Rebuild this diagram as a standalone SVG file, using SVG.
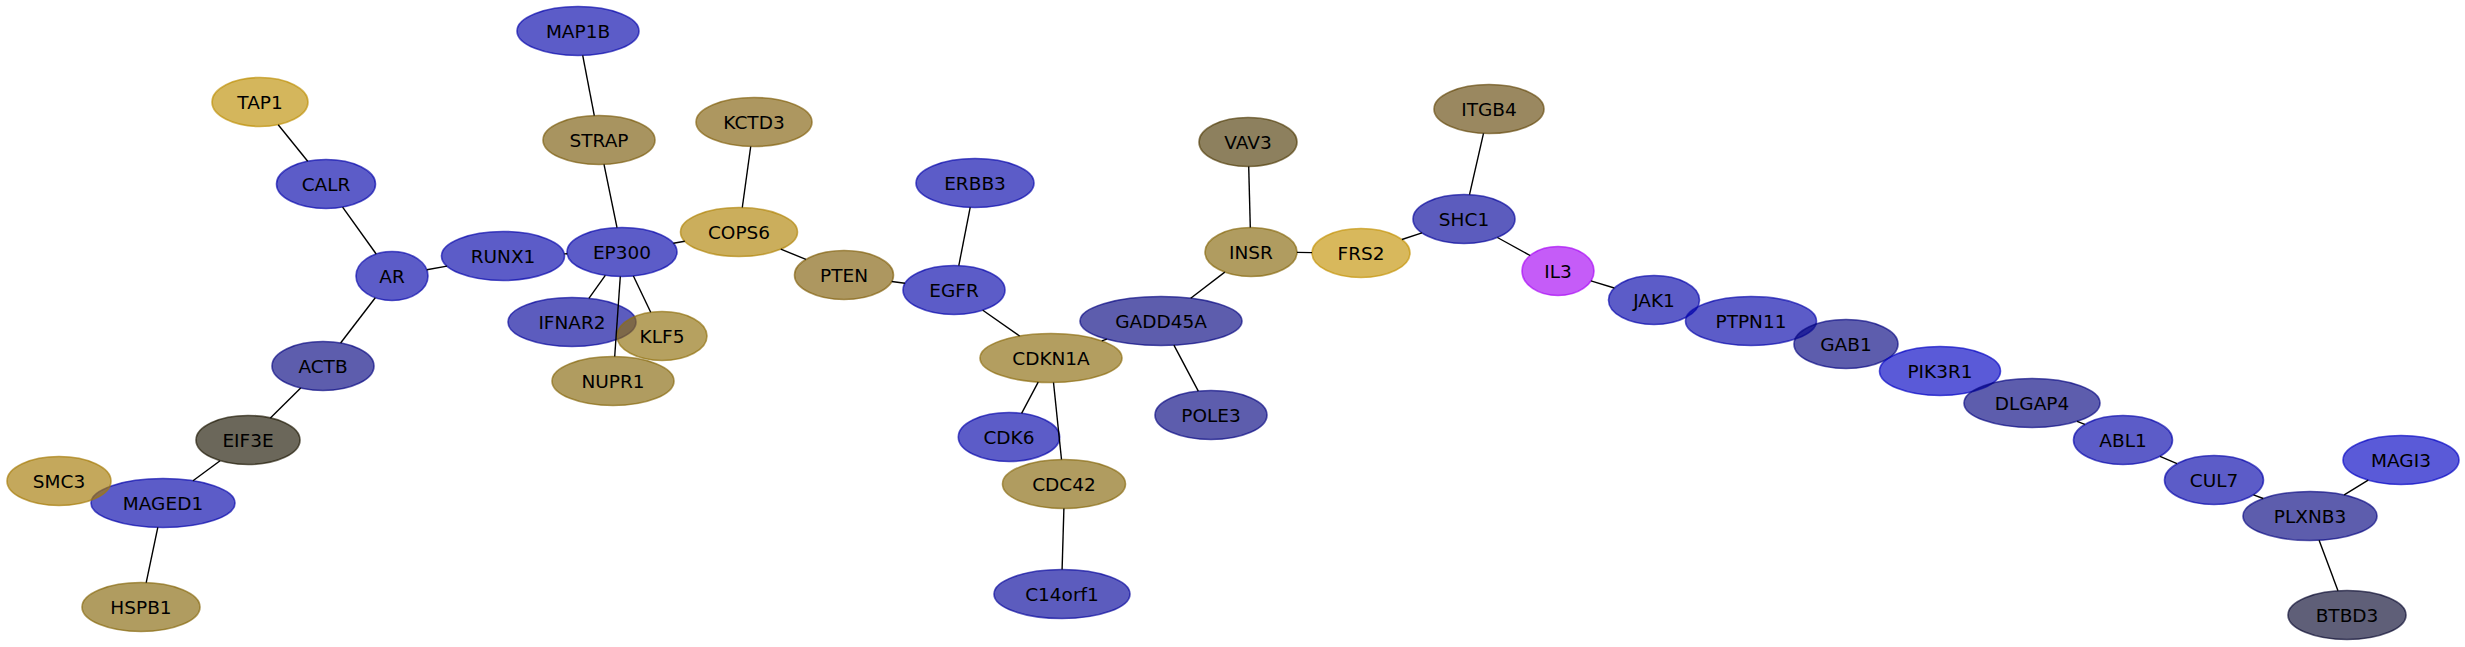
<svg xmlns="http://www.w3.org/2000/svg" width="2465" height="647" viewBox="0 0 2465 647">
<style>
  .n ellipse { fill-opacity: 0.65; stroke-opacity: 0.65; stroke-width: 1.6; }
  .n text { font-family: "DejaVu Sans", "Liberation Sans", sans-serif; font-size: 18.5px; fill: #000; text-anchor: middle; }
  .blue ellipse { fill: #0404aa; stroke: #0404aa; }
  .bblue ellipse { fill: #0101c3; stroke: #0101c3; }
  .mblue ellipse { fill: #04049b; stroke: #04049b; }
  .dblue ellipse { fill: #060681; stroke: #060681; }
  .btbd ellipse { fill: #09092f; stroke: #09092f; }
  .eif ellipse { fill: #1b1501; stroke: #1b1501; }
  .tap ellipse { fill: #bd8f04; stroke: #bd8f04; }
  .cops ellipse { fill: #af8204; stroke: #af8204; }
  .frs ellipse { fill: #c39204; stroke: #c39204; }
  .smc ellipse { fill: #a47904; stroke: #a47904; }
  .tan ellipse { fill: #85670a; stroke: #85670a; }
  .strap ellipse { fill: #795a0a; stroke: #795a0a; }
  .kctd ellipse { fill: #81600a; stroke: #81600a; }
  .cdkn ellipse { fill: #8a6a0a; stroke: #8a6a0a; }
  .klf ellipse { fill: #8f6e0a; stroke: #8f6e0a; }
  .vav ellipse { fill: #503c07; stroke: #503c07; }
  .itgb ellipse { fill: #64480a; stroke: #64480a; }
  .il ellipse { fill: #a604f4; stroke: #a604f4; }
  #edges line { stroke: #000; stroke-width: 1.4; }
</style>
<rect width="2465" height="647" fill="#fff"/>
<g id="nodes">
  <g id="TAP1" class="n tap"><ellipse cx="260" cy="102" rx="48" ry="24.5"/><text x="260" y="108.5">TAP1</text></g>
  <g id="CALR" class="n blue"><ellipse cx="326" cy="184" rx="49.5" ry="24.5"/><text x="326" y="190.5">CALR</text></g>
  <g id="AR" class="n blue"><ellipse cx="392" cy="276" rx="36" ry="24.5"/><text x="392" y="282.5">AR</text></g>
  <g id="ACTB" class="n dblue"><ellipse cx="323" cy="366" rx="51" ry="24.5"/><text x="323" y="372.5">ACTB</text></g>
  <g id="EIF3E" class="n eif"><ellipse cx="248" cy="440" rx="52" ry="24.5"/><text x="248" y="446.5">EIF3E</text></g>
  <g id="MAGED1" class="n blue"><ellipse cx="163" cy="503" rx="72" ry="24.5"/><text x="163" y="509.5">MAGED1</text></g>
  <g id="SMC3" class="n smc"><ellipse cx="59" cy="481" rx="52" ry="24.5"/><text x="59" y="487.5">SMC3</text></g>
  <g id="HSPB1" class="n tan"><ellipse cx="141" cy="607" rx="59" ry="24.5"/><text x="141" y="613.5">HSPB1</text></g>
  <g id="MAP1B" class="n blue"><ellipse cx="578" cy="31" rx="61" ry="24.5"/><text x="578" y="37.5">MAP1B</text></g>
  <g id="STRAP" class="n strap"><ellipse cx="599" cy="140" rx="56" ry="24.5"/><text x="599" y="146.5">STRAP</text></g>
  <g id="KCTD3" class="n kctd"><ellipse cx="754" cy="122" rx="58" ry="24.5"/><text x="754" y="128.5">KCTD3</text></g>
  <g id="COPS6" class="n cops"><ellipse cx="739" cy="232" rx="58.5" ry="24.5"/><text x="739" y="238.5">COPS6</text></g>
  <g id="RUNX1" class="n blue"><ellipse cx="503" cy="256" rx="61.5" ry="24.5"/><text x="503" y="262.5">RUNX1</text></g>
  <g id="EP300" class="n blue"><ellipse cx="622" cy="252" rx="55" ry="24.5"/><text x="622" y="258.5">EP300</text></g>
  <g id="NUPR1" class="n tan"><ellipse cx="613" cy="381" rx="61" ry="24.5"/><text x="613" y="387.5">NUPR1</text></g>
  <g id="IFNAR2" class="n mblue"><ellipse cx="572" cy="322" rx="64" ry="24.5"/><text x="572" y="328.5">IFNAR2</text></g>
  <g id="KLF5" class="n klf"><ellipse cx="662" cy="336" rx="45" ry="24.5"/><text x="662" y="342.5">KLF5</text></g>
  <g id="PTEN" class="n kctd"><ellipse cx="844" cy="275" rx="49.5" ry="24.5"/><text x="844" y="281.5">PTEN</text></g>
  <g id="ERBB3" class="n blue"><ellipse cx="975" cy="183" rx="59" ry="24.5"/><text x="975" y="189.5">ERBB3</text></g>
  <g id="EGFR" class="n blue"><ellipse cx="954" cy="290" rx="51" ry="24.5"/><text x="954" y="296.5">EGFR</text></g>
  <g id="GADD45A" class="n dblue"><ellipse cx="1161" cy="321" rx="81" ry="24.5"/><text x="1161" y="327.5">GADD45A</text></g>
  <g id="CDKN1A" class="n cdkn"><ellipse cx="1051" cy="358" rx="71" ry="24.5"/><text x="1051" y="364.5">CDKN1A</text></g>
  <g id="CDK6" class="n blue"><ellipse cx="1009" cy="437" rx="50.7" ry="24.5"/><text x="1009" y="443.5">CDK6</text></g>
  <g id="CDC42" class="n tan"><ellipse cx="1064" cy="484" rx="61.5" ry="24.5"/><text x="1064" y="490.5">CDC42</text></g>
  <g id="C14orf1" class="n mblue"><ellipse cx="1062" cy="594" rx="68" ry="24.5"/><text x="1062" y="600.5">C14orf1</text></g>
  <g id="POLE3" class="n dblue"><ellipse cx="1211" cy="415" rx="56" ry="24.5"/><text x="1211" y="421.5">POLE3</text></g>
  <g id="VAV3" class="n vav"><ellipse cx="1248" cy="142" rx="49" ry="24.5"/><text x="1248" y="148.5">VAV3</text></g>
  <g id="INSR" class="n tan"><ellipse cx="1251" cy="252" rx="46" ry="24.5"/><text x="1251" y="258.5">INSR</text></g>
  <g id="FRS2" class="n frs"><ellipse cx="1361" cy="253" rx="49" ry="24.5"/><text x="1361" y="259.5">FRS2</text></g>
  <g id="ITGB4" class="n itgb"><ellipse cx="1489" cy="109" rx="55" ry="24.5"/><text x="1489" y="115.5">ITGB4</text></g>
  <g id="SHC1" class="n mblue"><ellipse cx="1464" cy="219" rx="51" ry="24.5"/><text x="1464" y="225.5">SHC1</text></g>
  <g id="IL3" class="n il"><ellipse cx="1558" cy="271" rx="36" ry="24.5"/><text x="1558" y="277.5">IL3</text></g>
  <g id="JAK1" class="n blue"><ellipse cx="1654" cy="300" rx="45.5" ry="24.5"/><text x="1654" y="306.5">JAK1</text></g>
  <g id="PTPN11" class="n blue"><ellipse cx="1751" cy="321" rx="65.5" ry="24.5"/><text x="1751" y="327.5">PTPN11</text></g>
  <g id="GAB1" class="n dblue"><ellipse cx="1846" cy="344" rx="52" ry="24.5"/><text x="1846" y="350.5">GAB1</text></g>
  <g id="PIK3R1" class="n bblue"><ellipse cx="1940" cy="371" rx="60.5" ry="24.5"/><text x="1940" y="377.5">PIK3R1</text></g>
  <g id="DLGAP4" class="n dblue"><ellipse cx="2032" cy="403" rx="68" ry="24.5"/><text x="2032" y="409.5">DLGAP4</text></g>
  <g id="ABL1" class="n blue"><ellipse cx="2123" cy="440" rx="49.5" ry="24.5"/><text x="2123" y="446.5">ABL1</text></g>
  <g id="CUL7" class="n blue"><ellipse cx="2214" cy="480" rx="49.5" ry="24.5"/><text x="2214" y="486.5">CUL7</text></g>
  <g id="PLXNB3" class="n dblue"><ellipse cx="2310" cy="516" rx="67" ry="24.5"/><text x="2310" y="522.5">PLXNB3</text></g>
  <g id="MAGI3" class="n bblue"><ellipse cx="2401" cy="460" rx="58" ry="24.5"/><text x="2401" y="466.5">MAGI3</text></g>
  <g id="BTBD3" class="n btbd"><ellipse cx="2347" cy="615" rx="59" ry="24.5"/><text x="2347" y="621.5">BTBD3</text></g>
</g>
<g id="edges">
  <line x1="278.2" y1="124.7" x2="307.7" y2="161.2"/>
  <line x1="342.6" y1="207.1" x2="376.2" y2="254.0"/>
  <line x1="375.3" y1="297.7" x2="340.6" y2="343.0"/>
  <line x1="300.7" y1="388.0" x2="270.4" y2="417.9"/>
  <line x1="220.1" y1="460.7" x2="193.0" y2="480.7"/>
  <line x1="157.8" y1="527.4" x2="146.2" y2="582.6"/>
  <line x1="426.8" y1="269.7" x2="447.0" y2="266.1"/>
  <line x1="564.3" y1="253.9" x2="567.2" y2="253.8"/>
  <line x1="582.7" y1="55.4" x2="594.3" y2="115.6"/>
  <line x1="604.0" y1="164.4" x2="617.0" y2="227.6"/>
  <line x1="750.7" y1="146.5" x2="742.3" y2="207.5"/>
  <line x1="673.4" y1="243.2" x2="684.8" y2="241.3"/>
  <line x1="605.3" y1="275.3" x2="588.9" y2="298.4"/>
  <line x1="633.4" y1="276.0" x2="650.7" y2="312.3"/>
  <line x1="620.3" y1="276.5" x2="614.7" y2="356.5"/>
  <line x1="780.8" y1="249.1" x2="805.9" y2="259.4"/>
  <line x1="891.7" y1="281.5" x2="904.9" y2="283.3"/>
  <line x1="970.2" y1="207.4" x2="958.8" y2="265.6"/>
  <line x1="982.8" y1="310.2" x2="1019.6" y2="336.0"/>
  <line x1="1101.8" y1="340.9" x2="1106.8" y2="339.2"/>
  <line x1="1038.2" y1="382.1" x2="1021.6" y2="413.3"/>
  <line x1="1053.5" y1="382.5" x2="1061.5" y2="459.5"/>
  <line x1="1063.9" y1="508.5" x2="1062.1" y2="569.5"/>
  <line x1="1173.9" y1="345.2" x2="1198.3" y2="391.1"/>
  <line x1="1190.7" y1="298.2" x2="1224.8" y2="272.1"/>
  <line x1="1248.7" y1="166.5" x2="1250.3" y2="227.5"/>
  <line x1="1297.0" y1="252.4" x2="1312.0" y2="252.6"/>
  <line x1="1401.9" y1="239.5" x2="1422.0" y2="232.9"/>
  <line x1="1483.5" y1="133.4" x2="1469.5" y2="194.6"/>
  <line x1="1497.4" y1="237.5" x2="1530.1" y2="255.5"/>
  <line x1="1590.9" y1="280.9" x2="1614.3" y2="288.0"/>
  <line x1="2077.1" y1="421.3" x2="2084.8" y2="424.4"/>
  <line x1="2160.0" y1="456.3" x2="2177.0" y2="463.7"/>
  <line x1="2253.5" y1="494.8" x2="2263.2" y2="498.5"/>
  <line x1="2344.2" y1="494.9" x2="2368.2" y2="480.2"/>
  <line x1="2319.1" y1="540.3" x2="2338.0" y2="590.8"/>
</g>
</svg>
